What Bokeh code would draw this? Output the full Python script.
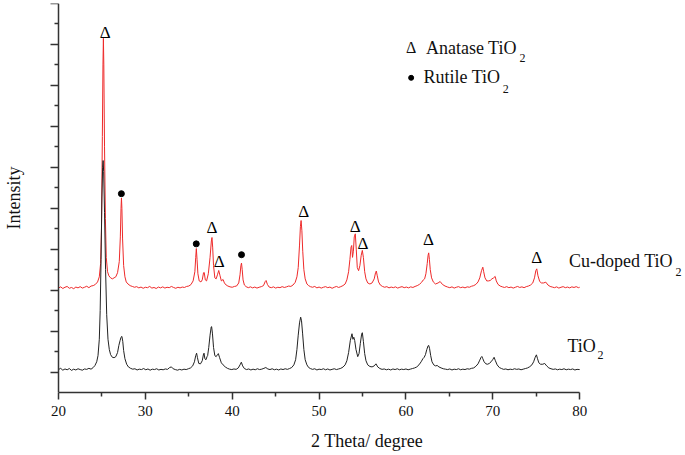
from bokeh.plotting import figure
from bokeh.models import Range1d, FixedTicker, Label, LinearAxis
from bokeh.core.properties import value
from bokeh.embed import file_html
from bokeh.resources import INLINE

FONT = "Liberation Serif"

x_ticks = [20, 30, 40, 50, 60, 70, 80]
x_minor_ticks = [25, 35, 45, 55, 65, 75]
y_ticks = [1, 3, 5, 7, 9, 11, 13, 15, 17, 19]
y_minor_ticks = [2, 4, 6, 8, 10, 12, 14, 16, 18]

# Cu-doped TiO2 pattern (2theta, intensity)
cu_doped_points = [
    (20.0, 5.10), (20.25, 5.16), (20.5, 5.08), (20.75, 5.14), (21.0, 5.18), (21.25, 5.09),
    (21.5, 5.13), (21.75, 5.07), (22.0, 5.15), (22.25, 5.11), (22.5, 5.17), (22.75, 5.10),
    (23.0, 5.14), (23.25, 5.19), (23.5, 5.12), (23.75, 5.20), (24.0, 5.22), (24.25, 5.28),
    (24.5, 5.40), (24.7, 5.65), (24.85, 6.3), (24.95, 8.0), (25.05, 12.5), (25.12, 16.0),
    (25.17, 17.3), (25.22, 16.0), (25.3, 12.0), (25.4, 8.5), (25.5, 6.6), (25.65, 5.9),
    (25.8, 5.7), (26.0, 5.6), (26.2, 5.55), (26.4, 5.6), (26.6, 5.65), (26.8, 5.85),
    (27.0, 6.4), (27.12, 7.6), (27.2, 9.0), (27.25, 9.5), (27.3, 9.0), (27.38, 7.5),
    (27.5, 6.2), (27.65, 5.65), (27.8, 5.4), (28.0, 5.3), (28.25, 5.22), (28.5, 5.18),
    (28.75, 5.14), (29.0, 5.17), (29.25, 5.11), (29.5, 5.15), (29.75, 5.09), (30.0, 5.14),
    (30.25, 5.12), (30.5, 5.18), (30.75, 5.10), (31.0, 5.13), (31.25, 5.08), (31.5, 5.15),
    (31.75, 5.11), (32.0, 5.16), (32.25, 5.10), (32.5, 5.14), (32.75, 5.12), (33.0, 5.18),
    (33.25, 5.13), (33.5, 5.09), (33.75, 5.14), (34.0, 5.11), (34.25, 5.15), (34.5, 5.13),
    (34.75, 5.18), (35.0, 5.20), (35.25, 5.27), (35.5, 5.45), (35.7, 5.9), (35.8, 6.6),
    (35.87, 7.03), (35.95, 6.5), (36.05, 5.8), (36.2, 5.45), (36.4, 5.4), (36.55, 5.5),
    (36.7, 5.85), (36.78, 5.86), (36.9, 5.5), (37.05, 5.45), (37.25, 5.8), (37.45, 6.6),
    (37.6, 7.4), (37.67, 7.57), (37.75, 7.1), (37.85, 6.2), (38.0, 5.6), (38.15, 5.55),
    (38.3, 5.75), (38.45, 5.96), (38.6, 5.7), (38.75, 5.45), (38.95, 5.52), (39.1, 5.35),
    (39.3, 5.25), (39.5, 5.2), (39.75, 5.16), (40.0, 5.14), (40.25, 5.18), (40.5, 5.2),
    (40.75, 5.35), (40.9, 5.75), (41.0, 6.2), (41.07, 6.32), (41.15, 6.0), (41.25, 5.5),
    (41.4, 5.25), (41.6, 5.17), (41.85, 5.12), (42.1, 5.16), (42.35, 5.11), (42.6, 5.15),
    (42.85, 5.10), (43.1, 5.14), (43.35, 5.17), (43.6, 5.22), (43.8, 5.42), (43.9, 5.47),
    (44.05, 5.28), (44.25, 5.15), (44.5, 5.12), (44.75, 5.16), (45.0, 5.10), (45.25, 5.14),
    (45.5, 5.12), (45.75, 5.17), (46.0, 5.13), (46.25, 5.16), (46.5, 5.20), (46.75, 5.18),
    (47.0, 5.25), (47.25, 5.38), (47.45, 5.65), (47.6, 6.1), (47.75, 7.2), (47.85, 8.1),
    (47.93, 8.4), (48.02, 7.9), (48.12, 6.9), (48.25, 6.0), (48.4, 5.55), (48.6, 5.3),
    (48.8, 5.22), (49.0, 5.17), (49.25, 5.14), (49.5, 5.18), (49.75, 5.11), (50.0, 5.15),
    (50.25, 5.10), (50.5, 5.14), (50.75, 5.17), (51.0, 5.12), (51.25, 5.15), (51.5, 5.09),
    (51.75, 5.14), (52.0, 5.18), (52.25, 5.13), (52.5, 5.17), (52.75, 5.22), (53.0, 5.30),
    (53.2, 5.5), (53.4, 5.9), (53.55, 6.5), (53.68, 7.1), (53.76, 7.18), (53.85, 6.6),
    (53.95, 6.9), (54.05, 7.6), (54.17, 7.75), (54.28, 7.0), (54.4, 6.1), (54.55, 5.95),
    (54.7, 6.2), (54.85, 6.7), (54.98, 6.94), (55.1, 6.6), (55.25, 5.9), (55.4, 5.55),
    (55.6, 5.35), (55.85, 5.3), (56.1, 5.35), (56.35, 5.55), (56.5, 5.85), (56.59, 5.93),
    (56.7, 5.7), (56.85, 5.4), (57.05, 5.25), (57.3, 5.18), (57.55, 5.14), (57.8, 5.17),
    (58.05, 5.11), (58.3, 5.15), (58.55, 5.12), (58.8, 5.16), (59.05, 5.10), (59.3, 5.14),
    (59.55, 5.17), (59.8, 5.12), (60.05, 5.15), (60.3, 5.11), (60.55, 5.16), (60.8, 5.13),
    (61.05, 5.18), (61.3, 5.22), (61.55, 5.28), (61.8, 5.38), (62.0, 5.5), (62.15, 5.55),
    (62.3, 5.8), (62.45, 6.3), (62.55, 6.7), (62.62, 6.82), (62.7, 6.5), (62.8, 6.0),
    (62.95, 5.6), (63.15, 5.4), (63.4, 5.3), (63.7, 5.35), (63.94, 5.42), (64.2, 5.28),
    (64.5, 5.2), (64.8, 5.15), (65.05, 5.12), (65.3, 5.16), (65.55, 5.10), (65.8, 5.14),
    (66.05, 5.17), (66.3, 5.12), (66.55, 5.15), (66.8, 5.11), (67.05, 5.16), (67.3, 5.14),
    (67.55, 5.19), (67.8, 5.22), (68.05, 5.28), (68.3, 5.40), (68.5, 5.6), (68.7, 5.95),
    (68.85, 6.12), (68.95, 5.9), (69.1, 5.6), (69.3, 5.45), (69.5, 5.45), (69.7, 5.47),
    (69.9, 5.55), (70.1, 5.6), (70.27, 5.67), (70.4, 5.45), (70.6, 5.28), (70.85, 5.2),
    (71.1, 5.16), (71.35, 5.13), (71.6, 5.17), (71.85, 5.12), (72.1, 5.15), (72.35, 5.10),
    (72.6, 5.14), (72.85, 5.18), (73.1, 5.13), (73.35, 5.16), (73.6, 5.12), (73.85, 5.17),
    (74.1, 5.20), (74.35, 5.25), (74.6, 5.35), (74.8, 5.6), (74.95, 5.95), (75.06, 6.04),
    (75.2, 5.7), (75.4, 5.42), (75.6, 5.35), (75.85, 5.35), (76.1, 5.39), (76.35, 5.25),
    (76.6, 5.18), (76.85, 5.15), (77.1, 5.12), (77.35, 5.16), (77.6, 5.10), (77.85, 5.14),
    (78.1, 5.17), (78.35, 5.12), (78.6, 5.15), (78.85, 5.11), (79.1, 5.16), (79.35, 5.13),
    (79.6, 5.17), (79.85, 5.12), (80.0, 5.14),
]

# Undoped TiO2 pattern (2theta, intensity)
tio2_points = [
    (20.0, 1.12), (20.25, 1.18), (20.5, 1.09), (20.75, 1.15), (21.0, 1.11), (21.25, 1.17),
    (21.5, 1.08), (21.75, 1.14), (22.0, 1.10), (22.25, 1.16), (22.5, 1.12), (22.75, 1.09),
    (23.0, 1.15), (23.25, 1.13), (23.5, 1.18), (23.75, 1.14), (24.0, 1.22), (24.2, 1.32),
    (24.4, 1.5), (24.55, 1.8), (24.7, 2.6), (24.8, 4.0), (24.9, 6.5), (25.0, 9.5),
    (25.08, 11.0), (25.14, 11.33), (25.2, 10.8), (25.3, 8.8), (25.42, 6.0), (25.55, 3.8),
    (25.7, 2.6), (25.85, 2.1), (26.0, 1.85), (26.2, 1.72), (26.4, 1.7), (26.6, 1.75),
    (26.8, 1.95), (26.95, 2.3), (27.1, 2.55), (27.2, 2.7), (27.3, 2.74), (27.4, 2.5),
    (27.5, 2.05), (27.65, 1.65), (27.85, 1.38), (28.05, 1.25), (28.3, 1.18), (28.55, 1.14),
    (28.8, 1.16), (29.05, 1.10), (29.3, 1.14), (29.55, 1.12), (29.8, 1.17), (30.05, 1.11),
    (30.3, 1.15), (30.55, 1.09), (30.8, 1.14), (31.05, 1.12), (31.3, 1.16), (31.55, 1.10),
    (31.8, 1.13), (32.05, 1.11), (32.3, 1.15), (32.55, 1.13), (32.8, 1.22), (33.0, 1.25),
    (33.2, 1.16), (33.45, 1.12), (33.7, 1.09), (33.95, 1.13), (34.2, 1.10), (34.45, 1.14),
    (34.7, 1.12), (34.95, 1.16), (35.2, 1.20), (35.45, 1.3), (35.65, 1.5), (35.8, 1.8),
    (35.9, 1.92), (36.0, 1.7), (36.15, 1.42), (36.35, 1.4), (36.55, 1.55), (36.7, 1.88),
    (36.76, 1.92), (36.85, 1.65), (36.98, 1.6), (37.1, 1.75), (37.17, 1.8), (37.3, 2.2),
    (37.45, 2.8), (37.58, 3.2), (37.63, 3.22), (37.72, 2.9), (37.85, 2.2), (38.0, 1.8),
    (38.15, 1.75), (38.3, 1.85), (38.4, 1.9), (38.55, 1.7), (38.75, 1.45), (38.95, 1.35),
    (39.2, 1.25), (39.45, 1.18), (39.7, 1.14), (39.95, 1.12), (40.2, 1.15), (40.45, 1.13),
    (40.7, 1.2), (40.9, 1.35), (41.05, 1.48), (41.2, 1.3), (41.4, 1.17), (41.65, 1.12),
    (41.9, 1.15), (42.15, 1.10), (42.4, 1.14), (42.65, 1.11), (42.9, 1.16), (43.15, 1.12),
    (43.4, 1.14), (43.65, 1.18), (43.87, 1.22), (44.1, 1.15), (44.35, 1.12), (44.6, 1.16),
    (44.85, 1.11), (45.1, 1.14), (45.35, 1.10), (45.6, 1.15), (45.85, 1.12), (46.1, 1.16),
    (46.35, 1.13), (46.6, 1.17), (46.85, 1.22), (47.1, 1.35), (47.3, 1.6), (47.45, 2.1),
    (47.6, 2.8), (47.75, 3.4), (47.88, 3.68), (47.98, 3.5), (48.1, 2.9), (48.25, 2.1),
    (48.4, 1.6), (48.6, 1.35), (48.8, 1.22), (49.0, 1.17), (49.25, 1.13), (49.5, 1.16),
    (49.75, 1.10), (50.0, 1.14), (50.25, 1.12), (50.5, 1.16), (50.75, 1.11), (51.0, 1.15),
    (51.25, 1.10), (51.5, 1.13), (51.75, 1.16), (52.0, 1.12), (52.25, 1.15), (52.5, 1.18),
    (52.75, 1.24), (53.0, 1.35), (53.2, 1.55), (53.4, 1.95), (53.6, 2.55), (53.79, 2.87),
    (53.9, 2.6), (54.0, 2.7), (54.1, 2.54), (54.25, 2.1), (54.45, 1.75), (54.6, 1.9),
    (54.75, 2.4), (54.9, 2.85), (54.98, 2.92), (55.1, 2.5), (55.25, 1.9), (55.4, 1.55),
    (55.6, 1.35), (55.85, 1.27), (56.1, 1.25), (56.35, 1.3), (56.55, 1.4), (56.75, 1.25),
    (57.0, 1.17), (57.25, 1.13), (57.5, 1.15), (57.75, 1.11), (58.0, 1.14), (58.25, 1.10),
    (58.5, 1.15), (58.75, 1.12), (59.0, 1.16), (59.25, 1.11), (59.5, 1.14), (59.75, 1.12),
    (60.0, 1.15), (60.25, 1.11), (60.5, 1.14), (60.75, 1.17), (61.0, 1.2), (61.25, 1.25),
    (61.5, 1.35), (61.75, 1.5), (61.95, 1.65), (62.1, 1.72), (62.25, 1.85), (62.4, 2.1),
    (62.55, 2.28), (62.62, 2.3), (62.72, 2.15), (62.85, 1.8), (63.0, 1.5), (63.2, 1.35),
    (63.4, 1.3), (63.6, 1.32), (63.8, 1.25), (64.05, 1.2), (64.3, 1.16), (64.55, 1.14),
    (64.8, 1.12), (65.05, 1.15), (65.3, 1.10), (65.55, 1.14), (65.8, 1.12), (66.05, 1.16),
    (66.3, 1.11), (66.55, 1.14), (66.8, 1.12), (67.05, 1.16), (67.3, 1.14), (67.55, 1.18),
    (67.8, 1.2), (68.05, 1.28), (68.3, 1.4), (68.5, 1.58), (68.65, 1.72), (68.74, 1.76),
    (68.85, 1.65), (69.0, 1.5), (69.2, 1.4), (69.4, 1.38), (69.6, 1.42), (69.8, 1.5),
    (69.98, 1.6), (70.15, 1.72), (70.3, 1.55), (70.5, 1.35), (70.75, 1.22), (71.0, 1.17),
    (71.25, 1.13), (71.5, 1.15), (71.75, 1.11), (72.0, 1.14), (72.25, 1.12), (72.5, 1.16),
    (72.75, 1.13), (73.0, 1.15), (73.25, 1.11), (73.5, 1.14), (73.75, 1.17), (74.0, 1.2),
    (74.25, 1.26), (74.5, 1.35), (74.7, 1.5), (74.88, 1.72), (75.02, 1.84), (75.15, 1.65),
    (75.3, 1.45), (75.5, 1.38), (75.75, 1.38), (75.97, 1.42), (76.2, 1.3), (76.45, 1.2),
    (76.7, 1.16), (76.95, 1.13), (77.2, 1.15), (77.45, 1.11), (77.7, 1.14), (77.95, 1.12),
    (78.2, 1.16), (78.45, 1.11), (78.7, 1.14), (78.95, 1.12), (79.2, 1.15), (79.45, 1.10),
    (79.7, 1.13), (80.0, 1.12),
]

# Phase markers above the peaks
anatase_x = [25.37, 37.67, 38.5, 48.24, 54.17, 55.06, 62.6, 75.06]
anatase_y = [17.59, 8.04, 6.38, 8.84, 8.11, 7.29, 7.46, 6.61]
rutile_x = [27.24, 35.86, 41.07]
rutile_y = [9.71, 7.26, 6.73]

cu_x = [pt[0] for pt in cu_doped_points]
cu_y = [pt[1] for pt in cu_doped_points]
ti_x = [pt[0] for pt in tio2_points]
ti_y = [pt[1] for pt in tio2_points]

AXIS_COLOR = "#333333"
TEXT_COLOR = "#111111"
PX_PER_DEG = 8.7

# frame starts 10 px left of 2theta=20 (room for the y ticks) and runs to the page edge
x_start = 20 - 10 / PX_PER_DEG
x_end = x_start + (685 - 47) / PX_PER_DEG

p = figure(width=685, height=455, x_range=Range1d(x_start, x_end), y_range=Range1d(0, 19),
           output_backend="svg", toolbar_location=None,
           min_border_left=47, min_border_right=0, min_border_top=3, min_border_bottom=63)
p.outline_line_color = None
p.grid.visible = False
p.background_fill_color = "white"
p.border_fill_color = "white"

p.line(cu_x, cu_y, line_color="#ee2a2a", line_width=1)
p.line(ti_x, ti_y, line_color="#222222", line_width=1)

p.text(x=anatase_x, y=anatase_y, text=["\u0394"] * len(anatase_x),
       text_font=value(FONT), text_font_size="17px", text_color="black",
       text_align="center", text_baseline="middle")
p.scatter(rutile_x, rutile_y, size=6, color="black")

# x axis (drawn only from 20 to 80)
xa = p.xaxis[0]
xa.bounds = (20, 80)
xa.ticker = FixedTicker(ticks=x_ticks, minor_ticks=x_minor_ticks)
xa.axis_label = "2 Theta/ degree"
xa.axis_label_text_font = FONT
xa.axis_label_text_font_size = "18px"
xa.axis_label_text_font_style = "normal"
xa.axis_label_text_color = TEXT_COLOR
xa.axis_label_standoff = 12
xa.major_label_text_font = FONT
xa.major_label_text_font_size = "15px"
xa.major_label_text_color = TEXT_COLOR
xa.major_label_standoff = 6
xa.major_tick_out = 7
xa.major_tick_in = 0
xa.minor_tick_out = 4
xa.minor_tick_in = 0
xa.axis_line_width = 1.5
xa.axis_line_color = AXIS_COLOR
xa.major_tick_line_width = 1.5
xa.minor_tick_line_width = 1.5
xa.major_tick_line_color = AXIS_COLOR
xa.minor_tick_line_color = AXIS_COLOR

# y axis: the default one only carries the title; ticks come from two unlabelled axes
ya = p.yaxis[0]
ya.ticker = FixedTicker(ticks=[], minor_ticks=[])
ya.axis_label = "Intensity"
ya.axis_label_text_font = FONT
ya.axis_label_text_font_size = "18px"
ya.axis_label_text_font_style = "normal"
ya.axis_label_text_color = TEXT_COLOR
ya.axis_label_standoff = 25
ya.axis_line_color = None
ya.major_tick_out = 0
ya.minor_tick_out = 0

for ticks, length, line_col in ((y_ticks, 8, AXIS_COLOR), (y_minor_ticks, 4, None)):
    ax = LinearAxis(fixed_location=20, ticker=FixedTicker(ticks=[-100], minor_ticks=ticks))
    ax.minor_tick_out = length
    ax.minor_tick_in = 0
    ax.major_tick_out = 0
    ax.major_tick_in = 0
    ax.minor_tick_line_width = 1.5
    ax.minor_tick_line_color = AXIS_COLOR
    ax.axis_line_width = 1.5
    ax.axis_line_color = line_col
    p.add_layout(ax, "left")


def add_label(x, y, text, size, align="left"):
    p.add_layout(Label(x=x, y=y, text=text, text_font=FONT, text_font_size=size,
                       text_color=TEXT_COLOR, text_align=align, text_baseline="middle"))


# legend
add_label(60.6, 16.84, "\u0394", "16px", "center")
add_label(62.3, 16.83, "Anatase TiO", "18px")
add_label(73.41, 16.32, "2", "12px", "center")
p.scatter([60.6], [15.37], size=5, color="black")
add_label(62.03, 15.39, "Rutile TiO", "18px")
add_label(71.49, 14.84, "2", "12px", "center")

# series labels
add_label(78.77, 6.40, "Cu-doped TiO", "18px")
add_label(91.38, 5.88, "2", "12px", "center")
add_label(78.59, 2.27, "TiO", "18px")
add_label(82.41, 1.81, "2", "12px", "center")

open("out.html", "w").write(file_html(p, INLINE))
